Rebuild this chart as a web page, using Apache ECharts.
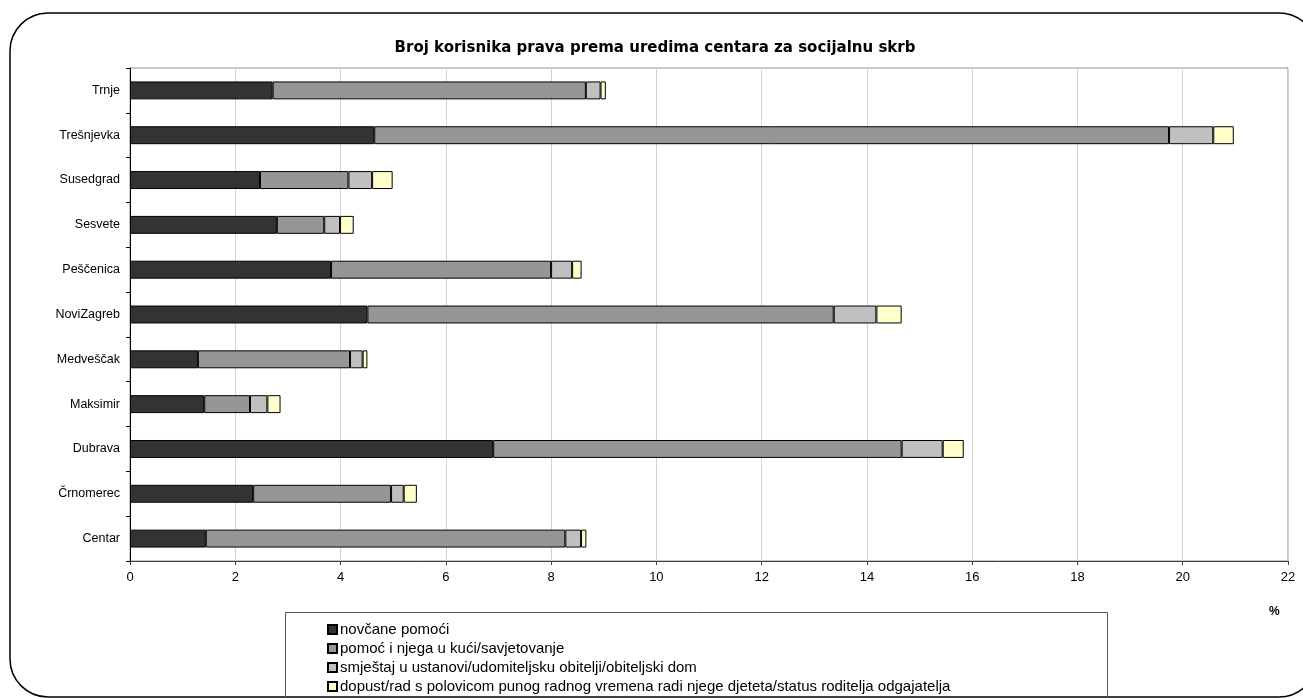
<!DOCTYPE html>
<html>
<head>
<meta charset="utf-8">
<script src="https://cdn.jsdelivr.net/npm/echarts@6/dist/echarts.min.js"></script>
<style>html,body{margin:0;padding:0;background:#fff}#c{width:1303px;height:698px}</style>
</head>
<body>
<div id="c"></div>
<script>
var categories = ['Centar','Črnomerec','Dubrava','Maksimir','Medveščak','NoviZagreb','Peščenica','Sesvete','Susedgrad','Trešnjevka','Trnje'];
var seriesNames = ['novčane pomoći','pomoć i njega u kući/savjetovanje','smještaj u ustanovi/udomiteljsku obitelji/obiteljski dom','dopust/rad s polovicom punog radnog vremena radi njege djeteta/status roditelja odgajatelja'];
var novcane   = [1.44, 2.34, 6.90, 1.41, 1.29, 4.51, 3.82, 2.79, 2.47, 4.64, 2.71];
var pomoc     = [6.83, 2.62, 7.76, 0.87, 2.89, 8.86, 4.18, 0.90, 1.68, 15.10, 5.95];
var smjestaj  = [0.30, 0.24, 0.78, 0.33, 0.24, 0.81, 0.40, 0.30, 0.45, 0.84, 0.28];
var dopust    = [0.10, 0.25, 0.40, 0.25, 0.09, 0.48, 0.18, 0.26, 0.39, 0.39, 0.10];
var xTicks = [0,2,4,6,8,10,12,14,16,18,20,22];
var colors = ['#333333','#969696','#C0C0C0','#FFFFCC'];

var font = 'Liberation Sans, Arial, sans-serif';
var values = [novcane, pomoc, smjestaj, dopust];
var series = values.map(function(v,i){
  return {
    name: seriesNames[i], type:'bar', stack:'s', data:v, barWidth:'40%',
    itemStyle:{color:colors[i], borderColor:'#000', borderWidth:1},
    emphasis:{disabled:true}
  };
});
var chart = echarts.init(document.getElementById('c'));
chart.setOption({
  animation:false,
  title:{text:'Broj korisnika prava prema uredima centara za socijalnu skrb', left:650, top:36, textAlign:'center',
    textStyle:{fontFamily:'DejaVu Sans', fontSize:15, fontWeight:'bold', color:'#000'}},
  grid:{left:130, top:68, width:1158, height:493, show:true, borderColor:'#909090', borderWidth:1, backgroundColor:'transparent'},
  xAxis:{type:'value', min:xTicks[0], max:xTicks[xTicks.length-1], interval:2,
    axisLine:{show:true, lineStyle:{color:'#404040'}},
    axisTick:{show:true, length:4, lineStyle:{color:'#404040'}},
    axisLabel:{fontFamily:font, fontSize:13, color:'#000', margin:10},
    splitLine:{show:true, lineStyle:{color:'#d4d4d4'}}},
  yAxis:{type:'category', data:categories,
    axisLine:{show:true, lineStyle:{color:'#000'}},
    axisTick:{show:true, length:4, lineStyle:{color:'#000'}},
    axisLabel:{fontFamily:font, fontSize:12.5, color:'#000', margin:10},
    splitLine:{show:false}},
  legend:{orient:'vertical', left:327, top:622, padding:0, itemWidth:9, itemHeight:9, itemGap:4, icon:'rect',
    data:seriesNames, selectedMode:false,
    textStyle:{fontFamily:font, fontSize:15, lineHeight:14, color:'#000', padding:[0,0,0,-2]}},
  graphic:[
    {type:'rect', shape:{x:10, y:13, width:1307, height:684, r:38}, style:{fill:null, stroke:'#000', lineWidth:1.5}, z:-1},
    {type:'rect', shape:{x:285.5, y:612.5, width:822, height:90}, style:{fill:null, stroke:'#555', lineWidth:1}},
    {type:'text', left:1269, top:606, style:{text:'%', font:'bold 12px '+font, fill:'#000'}}
  ],
  series:series
});
</script>
</body>
</html>
